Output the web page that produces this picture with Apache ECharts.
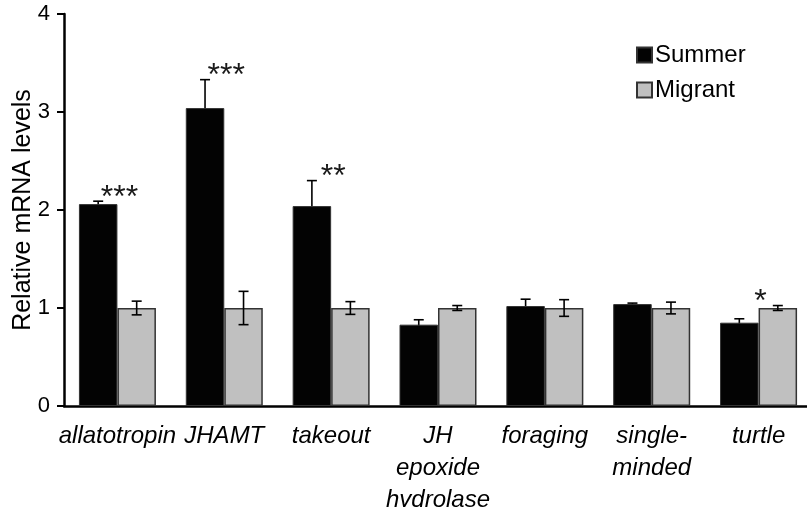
<!DOCTYPE html>
<html>
<head>
<meta charset="utf-8">
<script src="https://cdn.jsdelivr.net/npm/echarts@6/dist/echarts.min.js"></script>
<style>
html,body{margin:0;padding:0;background:#fff;}
#chart{width:807px;height:507px;}
</style>
</head>
<body>
<div id="chart"></div>
<script>
var categories = ['allatotropin', 'JHAMT', 'takeout', 'JH\nepoxide\nhydrolase', 'foraging', 'single-\nminded', 'turtle'];
var summerValues = [2.06, 3.04, 2.04, 0.83, 1.02, 1.04, 0.85];
var summerErrors = [0.03, 0.29, 0.26, 0.05, 0.07, 0.01, 0.04];
var migrantValues = [1.00, 1.00, 1.00, 1.00, 1.00, 1.00, 1.00];
var migrantErrors = [0.07, 0.17, 0.065, 0.025, 0.085, 0.06, 0.025];
var significance = ['***', '***', '**', '', '', '', '*'];
var yTicks = [0, 1, 2, 3, 4];

var FONT = '"Liberation Sans", Arial, sans-serif';
var BAR_W = 38.5;

function errorSeries(name, values, errors, side, z) {
  return {
    type: 'custom',
    name: name + ' error',
    silent: true,
    z: z,
    data: values.map(function (v, i) { return [i, v, errors[i]]; }),
    renderItem: function (params, api) {
      var i = api.value(0), v = api.value(1), e = api.value(2);
      var top = api.coord([i, v + e]);
      var bot = api.coord([i, v - e]);
      var x = top[0] + side * BAR_W / 2;
      var cap = 5;
      var st = { stroke: '#000', lineWidth: 1.6 };
      return {
        type: 'group',
        children: [
          { type: 'line', shape: { x1: x, y1: top[1], x2: x, y2: bot[1] }, style: st },
          { type: 'line', shape: { x1: x - cap, y1: top[1], x2: x + cap, y2: top[1] }, style: st },
          { type: 'line', shape: { x1: x - cap, y1: bot[1], x2: x + cap, y2: bot[1] }, style: st }
        ]
      };
    }
  };
}

var chart = echarts.init(document.getElementById('chart'));
chart.setOption({
  animation: false,
  backgroundColor: '#fff',
  grid: { left: 64, right: -5, top: 14, bottom: 101, outerBoundsMode: 'none', containLabel: false },
  legend: {
    orient: 'vertical',
    left: 631,
    top: 38,
    itemWidth: 15,
    itemHeight: 15,
    itemGap: 11,
    icon: 'rect',
    data: ['Summer', 'Migrant'],
    textStyle: { fontFamily: FONT, fontSize: 24, color: '#000', lineHeight: 24, padding: [0, 0, 0, -2] }
  },
  xAxis: {
    type: 'category',
    data: categories,
    axisLine: { lineStyle: { color: '#000', width: 2.5 } },
    axisTick: { show: false },
    axisLabel: {
      interval: 0,
      margin: 14,
      fontFamily: FONT,
      fontStyle: 'italic',
      fontSize: 24,
      lineHeight: 32,
      color: '#000'
    },
    splitLine: { show: false }
  },
  yAxis: {
    type: 'value',
    min: yTicks[0],
    max: yTicks[yTicks.length - 1],
    interval: 1,
    name: 'Relative mRNA levels',
    nameLocation: 'middle',
    nameRotate: 90,
    nameGap: 28,
    nameMoveOverlap: false,
    nameTextStyle: { fontFamily: FONT, fontSize: 25, color: '#000' },
    axisLine: { show: true, lineStyle: { color: '#000', width: 2.5 } },
    axisTick: { show: true, length: 7, lineStyle: { color: '#000', width: 2 } },
    axisLabel: { fontFamily: FONT, fontSize: 22, color: '#000', margin: 14 },
    splitLine: { show: false }
  },
  series: [
    {
      type: 'bar',
      name: 'Summer',
      data: summerValues,
      barWidth: BAR_W,
      barGap: '0%',
      z: 2,
      itemStyle: { color: '#030303', borderColor: '#333', borderWidth: 1 }
    },
    {
      type: 'bar',
      name: 'Migrant',
      data: migrantValues,
      barWidth: BAR_W,
      barGap: '0%',
      z: 2,
      itemStyle: { color: '#c0c0c0', borderColor: '#333', borderWidth: 1.5 }
    },
    errorSeries('Summer', summerValues, summerErrors, -1, 1),
    errorSeries('Migrant', migrantValues, migrantErrors, 1, 5),
    {
      type: 'custom',
      name: 'significance',
      silent: true,
      z: 6,
      data: significance.map(function (s, i) {
        return [i, Math.max(summerValues[i] + summerErrors[i], migrantValues[i] + migrantErrors[i])];
      }),
      renderItem: function (params, api) {
        var i = api.value(0);
        var label = significance[params.dataIndex];
        if (!label) return null;
        var p = api.coord([i, api.value(1)]);
        return {
          type: 'text',
          style: {
            x: p[0] + 2,
            y: p[1] - 3,
            text: label,
            fill: '#1a1a1a',
            font: '32px ' + FONT,
            textAlign: 'center',
            textVerticalAlign: 'middle'
          }
        };
      }
    }
  ]
});
</script>
</body>
</html>
